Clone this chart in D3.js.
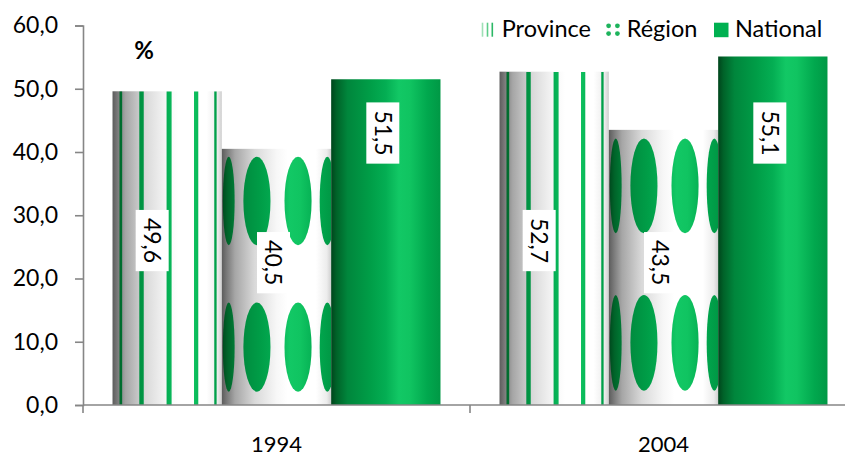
<!DOCTYPE html>
<html><head><meta charset="utf-8">
<script src="https://cdn.jsdelivr.net/npm/d3@7"></script>
<style>
html,body{margin:0;padding:0;background:#fff;}
svg{display:block;font-family:Lato,"Open Sans",sans-serif;}
</style></head>
<body><svg id="chart" width="845" height="457"></svg>
<script>
const categories = ["1994", "2004"];
const series = ["Province", "Région", "National"];
const province = [49.6, 52.7];
const region = [40.5, 43.5];
const national = [51.5, 55.1];
const yTicks = [0, 10, 20, 30, 40, 50, 60];
const unitLabel = "%";

const values = [province, region, national];
const rows = categories.map((c, i) => ({cat: c, vals: series.map((s, k) => ({s, k, v: values[k][i]}))}));

const svg = d3.select("#chart");
const defs = svg.append("defs");

function grad(id, stops) {
  const g = defs.append("linearGradient").attr("id", id).attr("x1", 0).attr("x2", 1).attr("y1", 0).attr("y2", 0);
  stops.forEach(([o, c]) => g.append("stop").attr("offset", o).attr("stop-color", c));
}
grad("gGray", [[0, "#5c5c5c"], [0.04, "#767676"], [0.12, "#a6a6a6"], [0.3, "#d9d9d9"], [0.5, "#f7f7f7"], [0.6, "#ffffff"], [0.86, "#ffffff"], [0.96, "#ececec"], [1, "#cfcfcf"]]);
grad("gGreen", [[0, "#00451c"], [0.05, "#006329"], [0.15, "#00863c"], [0.35, "#009d47"], [0.5, "#04ae53"], [0.62, "#12c865"], [0.72, "#10c461"], [0.88, "#01a84e"], [1, "#009845"]]);

// stripes mask (cylinder projected vertical lines)
const mS = defs.append("mask").attr("id", "mStripes").attr("maskContentUnits", "objectBoundingBox")
  .attr("x", 0).attr("y", 0).attr("width", 1).attr("height", 1);
[32, 62, 92, 122, 152].forEach(a => {
  const t = a * Math.PI / 180;
  const cx = (1 - Math.cos(t)) / 2, w = 0.046 * Math.sin(t);
  mS.append("rect").attr("x", cx - w / 2).attr("y", 0).attr("width", w).attr("height", 1).attr("fill", "#fff");
});
// ellipse mask
const mE = defs.append("mask").attr("id", "mDots").attr("maskContentUnits", "objectBoundingBox")
  .attr("x", 0).attr("y", 0).attr("width", 1).attr("height", 1);
[[0.063, 0.054], [0.321, 0.124], [0.697, 0.124], [0.965, 0.07]].forEach(([cx, rx]) => {
  [[0.2035, 0.1725], [0.774, 0.174]].forEach(([cy, ry]) => {
    mE.append("ellipse").attr("cx", cx).attr("cy", cy).attr("rx", rx).attr("ry", ry).attr("fill", "#fff");
  });
});

const y = d3.scaleLinear().domain([0, 60]).range([405, 25.5]);
const x0 = d3.scaleBand().domain(categories).range([83, 857]).padding(0);
const x1 = d3.scaleBand().domain(series).range([0, x0.bandwidth()]).paddingInner(0).paddingOuter(0.27);

// bars
const groups = svg.append("g").selectAll("g").data(rows).join("g")
  .attr("transform", d => `translate(${x0(d.cat)},0)`);
groups.each(function(d) {
  const g = d3.select(this);
  d.vals.forEach(b => {
    const bx = x1(b.s), bw = x1.bandwidth(), by = y(b.v), bh = y(0) - y(b.v);
    if (b.k === 2) {
      g.append("rect").attr("x", bx).attr("y", by).attr("width", bw).attr("height", bh).attr("fill", "url(#gGreen)");
    } else {
      g.append("rect").attr("x", bx).attr("y", by).attr("width", bw).attr("height", bh).attr("fill", "url(#gGray)");
      g.append("rect").attr("x", bx).attr("y", by).attr("width", bw).attr("height", bh).attr("fill", "url(#gGreen)")
        .attr("mask", b.k === 0 ? "url(#mStripes)" : "url(#mDots)");
    }
  });
});

// axes
const axisColor = "#868686";
const yAxis = d3.axisLeft(y).tickValues(yTicks).tickSize(8).tickPadding(17)
  .tickFormat(v => d3.format(".1f")(v).replace(".", ","));
const ya = svg.append("g").attr("transform", "translate(83,0)").call(yAxis);
ya.select(".domain").attr("stroke", axisColor).attr("stroke-width", 1.6);
ya.selectAll(".tick line").attr("stroke", axisColor).attr("stroke-width", 1.6);
ya.selectAll(".tick text").attr("font-size", 23).attr("fill", "#000").attr("font-family", "Lato");

const xa = svg.append("g");
xa.append("line").attr("x1", 83).attr("x2", 857).attr("y1", y(0)).attr("y2", y(0)).attr("stroke", axisColor).attr("stroke-width", 1.6);
const bounds = [x0(categories[0])].concat(categories.map(c => x0(c) + x0.bandwidth()));
xa.selectAll("line.tk").data(bounds).join("line").attr("class", "tk")
  .attr("x1", d => d).attr("x2", d => d).attr("y1", y(0)).attr("y2", y(0) + 8).attr("stroke", axisColor).attr("stroke-width", 1.6);
xa.selectAll("text").data(categories).join("text")
  .attr("x", d => x0(d) + x0.bandwidth() / 2).attr("y", 452).attr("text-anchor", "middle")
  .attr("font-size", 22).attr("fill", "#000").text(d => d);

// data labels
const labelCfg = [{dx: -15, at: 26}, {dx: -3, at: 22.5}, {dx: -3, at: 43}];
groups.each(function(d) {
  const g = d3.select(this);
  d.vals.forEach(b => {
    const cx = x1(b.s) + x1.bandwidth() / 2 + labelCfg[b.k].dx;
    const cy = y(labelCfg[b.k].at);
    const lg = g.append("g").attr("transform", `translate(${cx},${cy}) rotate(90)`);
    const txt = d3.format(".1f")(b.v).replace(".", ",");
    const t = lg.append("text").attr("text-anchor", "middle").attr("dy", "0.35em").attr("font-size", 23).attr("fill", "#000").text(txt);
    const w = t.node().getComputedTextLength();
    lg.insert("rect", "text").attr("x", -w / 2 - 8).attr("y", -16.5).attr("width", w + 16).attr("height", 33).attr("fill", "#fff");
  });
});

// unit label
svg.append("text").attr("x", 144).attr("y", 59).attr("text-anchor", "middle").attr("font-size", 24).attr("font-weight", "bold").text(unitLabel);

// legend
const lg = svg.append("g");
[[482.5, "#9ee0b6"], [487.5, "#5ccc88"], [492.3, "#2cb866"]].forEach(([x, c]) =>
  lg.append("rect").attr("x", x - 0.8).attr("y", 22.7).attr("width", 1.6).attr("height", 14).attr("fill", c));
[[608.6, 25.8], [617.4, 25.8], [608.6, 33.6], [617.4, 33.6]].forEach(([x, yy]) =>
  lg.append("circle").attr("cx", x).attr("cy", yy).attr("r", 2.4).attr("fill", "#1db35c"));
lg.append("rect").attr("x", 714).attr("y", 22.7).attr("width", 14.5).attr("height", 14.5).attr("fill", "#00b050");
const legX = [501.7, 626.7, 735];
series.forEach((s, i) => lg.append("text").attr("x", legX[i]).attr("y", 37).attr("font-size", 23.5).attr("fill", "#000").text(s));
</script></body></html>
